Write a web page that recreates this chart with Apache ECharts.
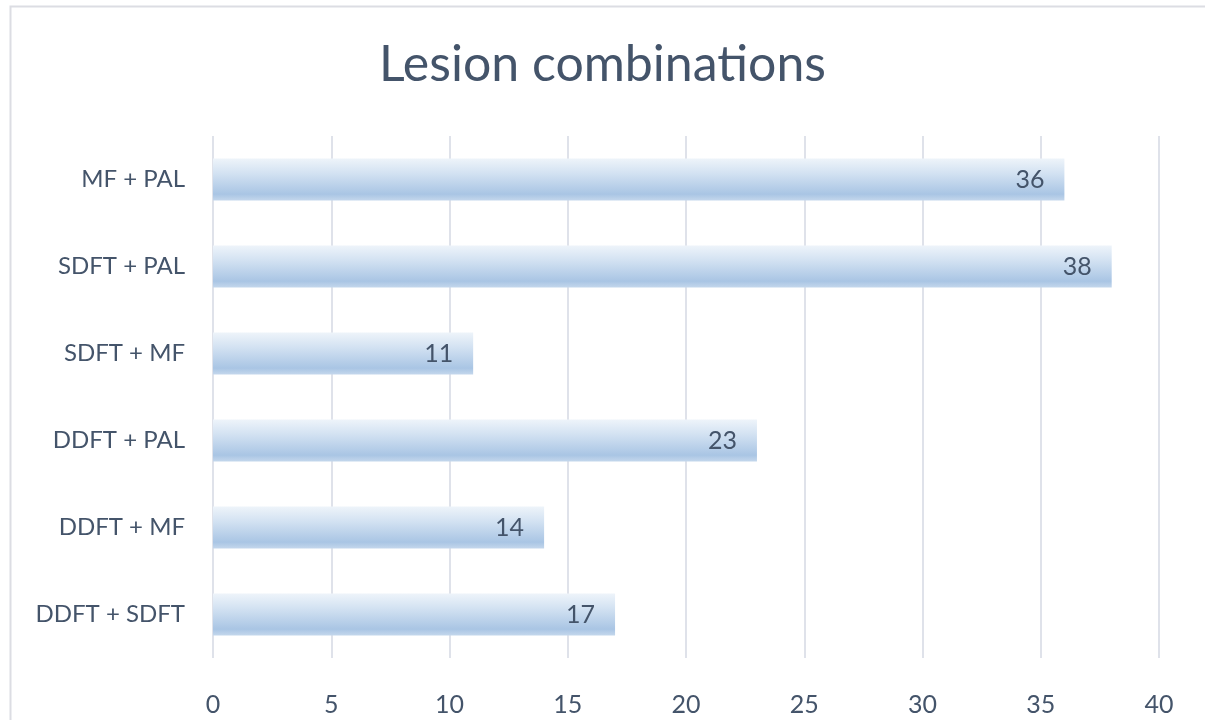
<!DOCTYPE html>
<html>
<head>
<meta charset="utf-8">
<script src="https://cdn.jsdelivr.net/npm/echarts@6/dist/echarts.min.js"></script>
<style>
  html, body { margin: 0; padding: 0; background: #fff; }
  #chart { width: 1205px; height: 720px; }
</style>
</head>
<body>
<div id="chart"></div>
<script>
// categories listed bottom to top (category axis runs upward)
var categories = ['DDFT + SDFT', 'DDFT + MF', 'DDFT + PAL', 'SDFT + MF', 'SDFT + PAL', 'MF + PAL'];
var counts = [17, 14, 23, 11, 38, 36];
var xTicks = [0, 5, 10, 15, 20, 25, 30, 35, 40];

var textColor = '#44546a';
var font = 'Lato, "Open Sans", sans-serif';

var chart = echarts.init(document.getElementById('chart'));
chart.setOption({
  animation: false,
  graphic: [{
    type: 'rect',
    left: 8, top: 4,
    shape: { width: 1210, height: 730 },
    style: { fill: 'none', stroke: '#dcdde3', lineWidth: 2 }
  }],
  title: {
    text: 'Lesion combinations',
    left: 'center',
    top: 35,
    textStyle: { fontFamily: font, fontSize: 50, fontWeight: 'normal', color: textColor }
  },
  grid: { left: 213, right: 46, top: 136, bottom: 62 },
  xAxis: {
    type: 'value',
    min: xTicks[0],
    max: xTicks[xTicks.length - 1],
    interval: 5,
    axisLine: { show: false },
    axisTick: { show: false },
    axisLabel: { color: textColor, fontFamily: font, fontSize: 25, margin: 34 },
    splitLine: { lineStyle: { color: '#dfe2ea', width: 2 } }
  },
  yAxis: {
    type: 'category',
    data: categories,
    axisLine: { show: false },
    axisTick: { show: false },
    axisLabel: { color: textColor, fontFamily: font, fontSize: 24, margin: 28 }
  },
  series: [{
    type: 'bar',
    data: counts,
    barWidth: 42,
    itemStyle: {
      color: new echarts.graphic.LinearGradient(0, 0, 0, 1, [
        { offset: 0, color: '#eef4fa' },
        { offset: 0.35, color: '#d3e2f2' },
        { offset: 0.85, color: '#a9c5e4' },
        { offset: 1, color: '#c4d7ec' }
      ])
    },
    label: {
      show: true,
      position: 'insideRight',
      distance: 20,
      color: textColor,
      fontFamily: font,
      fontSize: 25
    }
  }]
});
</script>
</body>
</html>
